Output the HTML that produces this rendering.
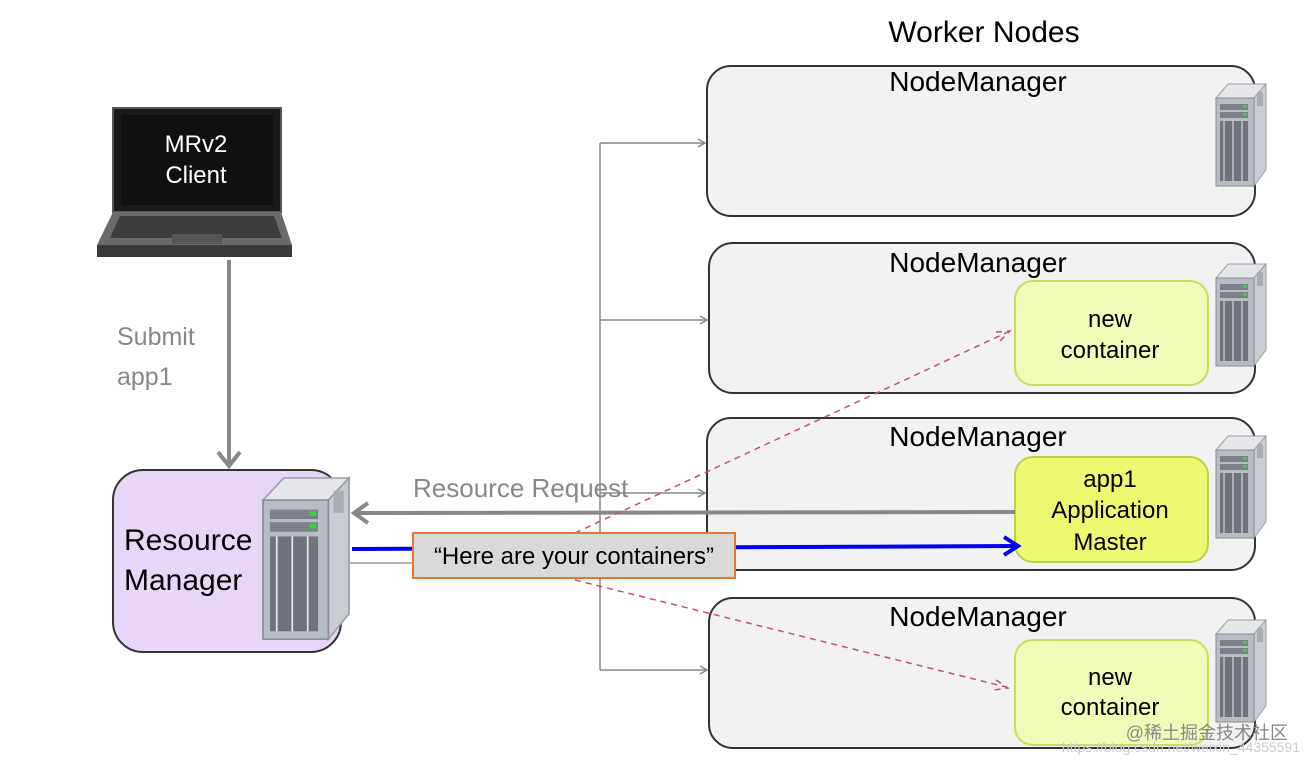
<!DOCTYPE html>
<html><head><meta charset="utf-8"><style>
html,body{margin:0;padding:0;background:#fff;}
svg{display:block;font-family:"Liberation Sans",sans-serif;}
</style></head><body>
<svg width="1310" height="764" viewBox="0 0 1310 764" xmlns="http://www.w3.org/2000/svg">
<defs>
<g id="srv">
  <polygon points="0,14 12,0 50,0 38,14" fill="#e4e6ea" stroke="#9a9ea6" stroke-width="1"/>
  <polygon points="38,14 50,0 50,86 38,102" fill="#c9ccd2" stroke="#9a9ea6" stroke-width="1"/>
  <rect x="0" y="14" width="38" height="88" fill="#b8bcc4" stroke="#8a8e96" stroke-width="1"/>
  <rect x="4" y="20" width="28" height="6" fill="#7c8088"/>
  <rect x="4" y="28" width="28" height="6" fill="#7c8088"/>
  <rect x="27" y="21" width="4" height="3" fill="#4c4"/>
  <rect x="27" y="29" width="4" height="3" fill="#4c4"/>
  <rect x="4" y="37" width="28" height="60" fill="#6f737b"/>
  <g stroke="#e8e8e8" stroke-width="1">
    <line x1="8" y1="37" x2="8" y2="97"/><line x1="17" y1="37" x2="17" y2="97"/><line x1="26" y1="37" x2="26" y2="97"/>
  </g>
  <rect x="41" y="8" width="6" height="14" fill="#a9adb4"/>
</g>
</defs>

<text x="984" y="42" font-size="30" text-anchor="middle" fill="#000">Worker Nodes</text>

<g fill="#f2f2f2" stroke="#333" stroke-width="2">
<rect x="707" y="66" width="548" height="150" rx="24"/>
<rect x="709" y="243" width="546" height="150" rx="24"/>
<rect x="707" y="418" width="548" height="152" rx="24"/>
<rect x="709" y="598" width="546" height="150" rx="24"/>
</g>
<g font-size="28" text-anchor="middle" fill="#000">
<text x="978" y="91">NodeManager</text>
<text x="978" y="272">NodeManager</text>
<text x="978" y="446">NodeManager</text>
<text x="978" y="626">NodeManager</text>
</g>
<use href="#srv" x="1216" y="84"/>
<use href="#srv" x="1216" y="264"/>
<use href="#srv" x="1216" y="436"/>
<use href="#srv" x="1216" y="620"/>

<rect x="1015" y="281" width="193" height="104" rx="18" fill="#f2fbb8" stroke="#c8de5a" stroke-width="2"/>
<rect x="1015" y="457" width="193" height="105" rx="18" fill="#ecf870" stroke="#bcd24a" stroke-width="2"/>
<rect x="1015" y="640" width="193" height="105" rx="18" fill="#f2fbb8" stroke="#c8de5a" stroke-width="2"/>
<g font-size="24" text-anchor="middle" fill="#000">
<text x="1110" y="327">new</text><text x="1110" y="358">container</text>
<text x="1110" y="487">app1</text><text x="1110" y="518">Application</text><text x="1110" y="550">Master</text>
<text x="1110" y="685">new</text><text x="1110" y="715">container</text>
</g>

<g stroke="#888" stroke-width="1.5" fill="none">
<line x1="600" y1="143" x2="600" y2="670"/>
<line x1="600" y1="143" x2="704" y2="143"/>
<line x1="600" y1="320" x2="706" y2="320"/>
<line x1="600" y1="493" x2="704" y2="493"/>
<line x1="600" y1="670" x2="706" y2="670"/>
<polyline points="698,139 705,143 698,147"/>
<polyline points="700,316 707,320 700,324"/>
<polyline points="698,489 705,493 698,497"/>
<polyline points="700,666 707,670 700,674"/>
</g>

<polygon points="113,108 281,108 281,212 113,212" fill="#1a1a1a" stroke="#555" stroke-width="2"/>
<rect x="121" y="115" width="152" height="90" fill="#101010"/>
<polygon points="113,212 281,212 292,245 97,245" fill="#6a6a6a"/>
<polygon points="120,216 274,216 282,238 110,238" fill="#3d3d3d"/>
<rect x="172" y="234" width="50" height="10" fill="#555"/>
<rect x="97" y="245" width="195" height="12" fill="#3a3a3a"/>
<g font-size="24" text-anchor="middle" fill="#fff">
<text x="196" y="152">MRv2</text><text x="196" y="183">Client</text>
</g>

<line x1="229" y1="260" x2="229" y2="466" stroke="#888" stroke-width="4"/>
<polyline points="218,452 229,466 240,452" fill="none" stroke="#888" stroke-width="4"/>
<g font-size="25" fill="#888"><text x="117" y="345">Submit</text><text x="117" y="385">app1</text></g>

<rect x="113" y="470" width="228" height="182" rx="30" fill="#e8d6f6" stroke="#333" stroke-width="2"/>
<g font-size="30" fill="#000"><text x="124" y="550">Resource</text><text x="124" y="590">Manager</text></g>
<use href="#srv" transform="translate(263,478) scale(1.72,1.58)"/>

<text x="413" y="497" font-size="26" fill="#888">Resource Request</text>
<line x1="1015" y1="512" x2="354" y2="513" stroke="#888" stroke-width="4"/>
<polyline points="368,503 354,513 368,523" fill="none" stroke="#888" stroke-width="4"/>

<g stroke="#c0507a" stroke-width="1.5" stroke-dasharray="6,5" fill="none">
<line x1="575" y1="533" x2="1008" y2="332"/>
<line x1="575" y1="580" x2="1006" y2="687"/>
<polyline points="996,332 1010,331 1000,341"/>
<polyline points="996,680 1008,688 994,690"/>
</g>

<line x1="352" y1="549" x2="1016" y2="546" stroke="#0000ee" stroke-width="4"/>
<polyline points="1004,537 1018,546 1004,555" fill="none" stroke="#0000ee" stroke-width="4"/>
<line x1="350" y1="563" x2="415" y2="563" stroke="#999" stroke-width="1.5"/>

<rect x="413" y="533" width="322" height="45" fill="#d9d9d9" stroke="#e07a30" stroke-width="2"/>
<text x="574" y="564" font-size="24" text-anchor="middle" fill="#000">“Here are your containers”</text>

<text x="1288" y="739" font-size="18" text-anchor="end" fill="#888" font-family="Liberation Sans, Noto Sans CJK SC, sans-serif">@稀土掘金技术社区</text>
<text x="1300" y="752" font-size="14" text-anchor="end" fill="#ccc">https://blog.csdn.net/weixin_44355591</text>
</svg>
</body></html>
